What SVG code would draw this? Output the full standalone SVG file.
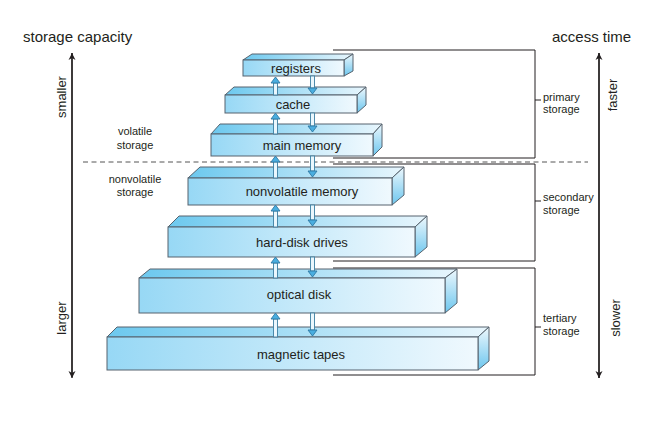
<svg xmlns="http://www.w3.org/2000/svg" width="650" height="422" viewBox="0 0 650 422">
<defs>
<linearGradient id="gFront" x1="0" y1="0" x2="1" y2="0">
<stop offset="0" stop-color="#97d8f5"/><stop offset="1" stop-color="#f0f9fe"/>
</linearGradient>
<linearGradient id="gTop" x1="0" y1="0" x2="1" y2="0">
<stop offset="0" stop-color="#6cc8ee"/><stop offset="1" stop-color="#e8f6fd"/>
</linearGradient>
<linearGradient id="gSide" x1="0" y1="0" x2="0" y2="1">
<stop offset="0" stop-color="#eef8fd"/><stop offset="1" stop-color="#6cc6ee"/>
</linearGradient>
<marker id="ah" viewBox="0 0 10 10" refX="10" refY="5" markerWidth="7" markerHeight="10" markerUnits="userSpaceOnUse" orient="auto">
<path d="M0,0 L10,5 L0,10 L3,5 Z" fill="#231f20"/>
</marker>
</defs>
<style>
.front{fill:url(#gFront);stroke:#56636e;stroke-width:1}
.top{fill:url(#gTop);stroke:#56636e;stroke-width:1;stroke-linejoin:round}
.side{fill:url(#gSide);stroke:#56636e;stroke-width:1;stroke-linejoin:round}
.lbl{font-family:"Liberation Sans",Arial,sans-serif;font-size:13px;fill:#231f20;text-anchor:middle}
.small{font-family:"Liberation Sans",Arial,sans-serif;font-size:11px;fill:#231f20}
.title{font-family:"Liberation Sans",Arial,sans-serif;font-size:15px;fill:#231f20}
.axis{stroke:#231f20;stroke-width:1.3;fill:none}
.br{stroke:#231f20;stroke-width:1;fill:none}
.dash{stroke:#555;stroke-width:1;stroke-dasharray:5 3.5;fill:none}
.shaft{fill:#eaf7fd;stroke:#3d7fa3;stroke-width:0.9}
.head{fill:#4aaee0;stroke:#2f78a3;stroke-width:0.9;stroke-linejoin:round}
</style>

<g id="axes">
<text class="title" x="23" y="42">storage capacity</text>
<text class="title" x="552" y="42" font-size="14.5">access time</text>
<line class="axis" x1="72" y1="377" x2="72" y2="53" marker-end="url(#ah)"/>
<line class="axis" x1="72" y1="53" x2="72" y2="378" marker-end="url(#ah)"/>
<line class="axis" x1="599" y1="378" x2="599" y2="53" marker-end="url(#ah)"/>
<line class="axis" x1="599" y1="53" x2="599" y2="378" marker-end="url(#ah)"/>
<text class="lbl" transform="translate(66,97) rotate(-90)">smaller</text>
<text class="lbl" transform="translate(66,318) rotate(-90)">larger</text>
<text class="lbl" transform="translate(617,95) rotate(-90)">faster</text>
<text class="lbl" transform="translate(620,318) rotate(-90)">slower</text>
</g>

<g id="volatility">
<text class="small" text-anchor="middle" x="135" y="135">volatile</text>
<text class="small" text-anchor="middle" x="135" y="149">storage</text>
<text class="small" text-anchor="middle" x="135" y="183">nonvolatile</text>
<text class="small" text-anchor="middle" x="135" y="196">storage</text>
<line class="dash" x1="83" y1="162" x2="588" y2="162"/>
</g>

<g id="brackets">
<path class="br" d="M333,50 H535 V158 H333 M535,100 h6"/>
<path class="br" d="M333,164 H535 V261 H333 M535,201 h6"/>
<path class="br" d="M333,268 H535 V375 H333 M535,327 h6"/>
<text class="small" x="543" y="101">primary</text>
<text class="small" x="543" y="113">storage</text>
<text class="small" x="543" y="201">secondary</text>
<text class="small" x="543" y="214">storage</text>
<text class="small" x="543" y="322">tertiary</text>
<text class="small" x="543" y="335">storage</text>
</g>

<g id="registers">
<polygon class="top" points="243,60 252,54 353,54 344,60"/>
<polygon class="side" points="344,60 353,54 353,71 344,76"/>
<rect class="front" x="243" y="60" width="101" height="16"/>
<text class="lbl" x="296" y="72.5">registers</text>
</g>
<g id="cache">
<polygon class="top" points="225,95 234,87 366,87 357,95"/>
<polygon class="side" points="357,95 366,87 366,105 357,113"/>
<rect class="front" x="225" y="95" width="132" height="18"/>
<text class="lbl" x="293" y="108.5">cache</text>
</g>
<g id="main-memory">
<polygon class="top" points="211,134 220,124 382,124 373,134"/>
<polygon class="side" points="373,134 382,124 382,147 373,156"/>
<rect class="front" x="211" y="134" width="162" height="22"/>
<text class="lbl" x="302" y="150">main memory</text>
</g>
<g id="nonvolatile-memory">
<polygon class="top" points="188,178 200,167 404,167 392,178"/>
<polygon class="side" points="392,178 404,167 404,195 392,205"/>
<rect class="front" x="188" y="178" width="204" height="27"/>
<text class="lbl" x="302" y="196">nonvolatile memory</text>
</g>
<g id="hard-disk-drives">
<polygon class="top" points="168,227 179,216 427,216 415,227"/>
<polygon class="side" points="415,227 427,216 427,247 415,257"/>
<rect class="front" x="168" y="227" width="247" height="30"/>
<text class="lbl" x="302" y="247">hard-disk drives</text>
</g>
<g id="optical-disk">
<polygon class="top" points="139,278 150,269 457,269 445,278"/>
<polygon class="side" points="445,278 457,269 457,303 445,313"/>
<rect class="front" x="139" y="278" width="306" height="35"/>
<text class="lbl" x="299" y="299">optical disk</text>
</g>
<g id="magnetic-tapes">
<polygon class="top" points="107,337 117,327 489,327 478,337"/>
<polygon class="side" points="478,337 489,327 489,361 478,370"/>
<rect class="front" x="107" y="337" width="371" height="33"/>
<text class="lbl" x="301" y="359">magnetic tapes</text>
</g>

<g id="connectors">
<rect class="shaft" x="273.5" y="83" width="4" height="12"/><polygon class="head" points="271,83 275.5,77 280,83"/>
<rect class="shaft" x="310.5" y="76" width="4" height="12"/><polygon class="head" points="308,88 312.5,94 317,88"/>
<rect class="shaft" x="273.5" y="119" width="4" height="15"/><polygon class="head" points="271,119 275.5,113 280,119"/>
<rect class="shaft" x="310.5" y="113" width="4" height="13"/><polygon class="head" points="308,126 312.5,132 317,126"/>
<rect class="shaft" x="273.5" y="162" width="4" height="16"/><polygon class="head" points="271,162 275.5,156 280,162"/>
<rect class="shaft" x="310.5" y="156" width="4" height="15"/><polygon class="head" points="308,171 312.5,177 317,171"/>
<rect class="shaft" x="273.5" y="211" width="4" height="16"/><polygon class="head" points="271,211 275.5,205 280,211"/>
<rect class="shaft" x="310.5" y="205" width="4" height="15"/><polygon class="head" points="308,220 312.5,226 317,220"/>
<rect class="shaft" x="273.5" y="263" width="4" height="15"/><polygon class="head" points="271,263 275.5,257 280,263"/>
<rect class="shaft" x="310.5" y="257" width="4" height="14"/><polygon class="head" points="308,271 312.5,277 317,271"/>
<rect class="shaft" x="273.5" y="319" width="4" height="18"/><polygon class="head" points="271,319 275.5,313 280,319"/>
<rect class="shaft" x="310.5" y="313" width="4" height="17"/><polygon class="head" points="308,330 312.5,336 317,330"/>
</g>
</svg>
